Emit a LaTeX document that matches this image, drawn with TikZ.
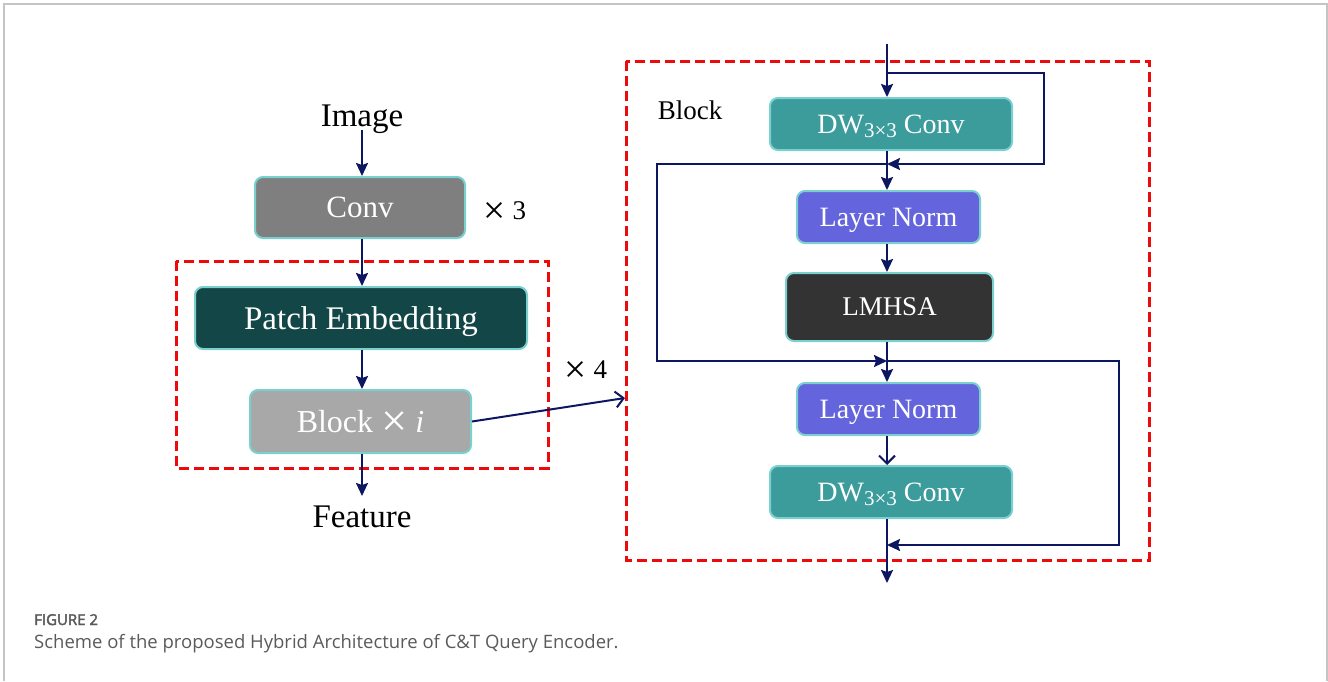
\documentclass[tikz,border=0pt]{standalone}
\usepackage{fontspec}
\setmainfont{Liberation Serif}
\newfontfamily\capfont{Open Sans}
\newfontfamily\capfontsb{Open Sans}[FakeBold=2.5]
\usetikzlibrary{arrows.meta,positioning}

\definecolor{navy}{HTML}{0D1660}
\definecolor{rimcyan}{HTML}{7ACFCF}
\definecolor{convgray}{HTML}{7F7F7F}
\definecolor{patchteal}{HTML}{134646}
\definecolor{blockgray}{HTML}{A8A8A8}
\definecolor{dwteal}{HTML}{3C9C9C}
\definecolor{normblue}{HTML}{6464DC}
\definecolor{attdark}{HTML}{333333}
\definecolor{dashred}{HTML}{EE0A0A}
\definecolor{framegray}{HTML}{C4C4C4}
\definecolor{captext}{HTML}{5A5A5A}

\newcommand{\fs}[1]{\fontsize{#1}{#1}\selectfont}
\newcommand{\bigx}{\raisebox{-0.13em}{\scalebox{1.45}{×}}}

\tikzset{
  x=1pt, y=-1pt,
  unit/.style={draw=rimcyan, line width=2pt, rounded corners=8pt,
               text=white, inner sep=0pt, align=center, text depth=0pt},
  flow/.style={draw=navy, line width=2pt,
               -{Stealth[length=13pt,width=12pt,inset=2pt]}},
  openflow/.style={draw=navy, line width=2pt,
               -{Straight Barb[length=8pt,width=16pt]}},
  wire/.style={draw=navy, line width=2pt},
  redbox/.style={draw=dashred, line width=3pt, dash pattern=on 10pt off 5pt},
  plain/.style={text=black, inner sep=0pt, text depth=0pt},
}

\begin{document}
\begin{tikzpicture}
\useasboundingbox (0,0) rectangle (1328,681);
% outer frame (open at the bottom)
\draw[framegray, line width=1.2pt] (4,681) -- (4,4) -- (1327,4) -- (1327,681);

% ---------- left: overall pipeline ----------
\node[plain, font=\fs{33}] (img) at (362,116) {Image};
\node[unit, fill=convgray, minimum width=210pt, minimum height=61pt, font=\fs{31}]
  (conv) at (360,207.5) {Conv};
\node[plain, font=\fs{27}] (x3) at (505,211) {\bigx\ 3};
\draw[redbox] (176,261) rectangle (548,468);
\node[unit, fill=patchteal, minimum width=332pt, minimum height=62pt, font=\fs{33}]
  (patch) at (361,318) {Patch Embedding};
\node[unit, fill=blockgray, minimum width=221pt, minimum height=63pt, font=\fs{32}]
  (blk) at (360.5,421.5) {Block \bigx\ \textit{i}};
\node[plain, font=\fs{33}] (feat) at (362,517) {Feature};
\node[plain, font=\fs{27}] (x4) at (586,370) {\bigx\ 4};

\coordinate (imgout) at (362,130);
\coordinate (featin) at (362,496);
\draw[flow] (imgout) -- (imgout |- conv.north);
\draw[flow] (conv.south -| imgout) -- (imgout |- patch.north);
\draw[flow] (patch.south -| imgout) -- (imgout |- blk.north);
\draw[flow] (blk.south -| imgout) -- (featin);

% link from the repeated block to its detail
\coordinate (detailin) at (625,398);
\draw[openflow] (blk.east) -- (detailin);

% ---------- right: block detail ----------
\draw[redbox] (626,61) rectangle (1149,560);
\node[plain, font=\fs{27}] (blabel) at (690,110) {Block};

\node[unit, fill=dwteal, minimum width=242pt, minimum height=52pt, font=\fs{28}]
  (dw1) at (891,124) {DW\raisebox{-0.35ex}{\fs{21}3×3} Conv};
\node[unit, fill=normblue, minimum width=183pt, minimum height=52pt, font=\fs{28}]
  (ln1) at (888.5,217) {Layer Norm};
\node[unit, fill=attdark, minimum width=207pt, minimum height=68pt, font=\fs{27}]
  (att) at (889.5,307) {LMHSA};
\node[unit, fill=normblue, minimum width=183pt, minimum height=52pt, font=\fs{28}]
  (ln2) at (888.5,409) {Layer Norm};
\node[unit, fill=dwteal, minimum width=242pt, minimum height=52pt, font=\fs{28}]
  (dw2) at (891,492) {DW\raisebox{-0.35ex}{\fs{21}3×3} Conv};

% trunk coordinates
\coordinate (top)  at (887,44);
\coordinate (j1)   at (887,73);
\coordinate (s1)   at (887,164);
\coordinate (s2)   at (887,361);
\coordinate (s3)   at (887,545);
\coordinate (out)  at (887,583);
\coordinate (r1a)  at (1044,73);
\coordinate (r1b)  at (1044,164);
\coordinate (l2a)  at (657,164);
\coordinate (l2b)  at (657,361);
\coordinate (r3a)  at (1119,361);
\coordinate (r3b)  at (1119,545);

% main path
\draw[flow] (top) -- (top |- dw1.north);
\draw[flow] (dw1.south -| top) -- (top |- ln1.north);
\draw[flow] (ln1.south -| top) -- (top |- att.north);
\draw[flow] (att.south -| top) -- (top |- ln2.north);
\draw[openflow] (ln2.south -| top) -- (top |- dw2.north);
\draw[flow] (dw2.south -| top) -- (out);

% residual connections
\draw[flow] (j1) -- (r1a) -- (r1b) -- (s1);
\draw[flow] (s1) -- (l2a) -- (l2b) -- (s2);
\draw[flow] (s2) -- (r3a) -- (r3b) -- (s3);

% ---------- caption ----------
\node[anchor=base west, inner sep=0pt, text=captext, font=\capfontsb\fs{15}]
  (figno) at (34,625) {FIGURE 2};
\node[anchor=base west, inner sep=0pt, text=captext, font=\capfont\fs{18.5}]
  (figcap) at (34,648) {Scheme of the proposed Hybrid Architecture of C\&T Query Encoder.};
\end{tikzpicture}
\end{document}
